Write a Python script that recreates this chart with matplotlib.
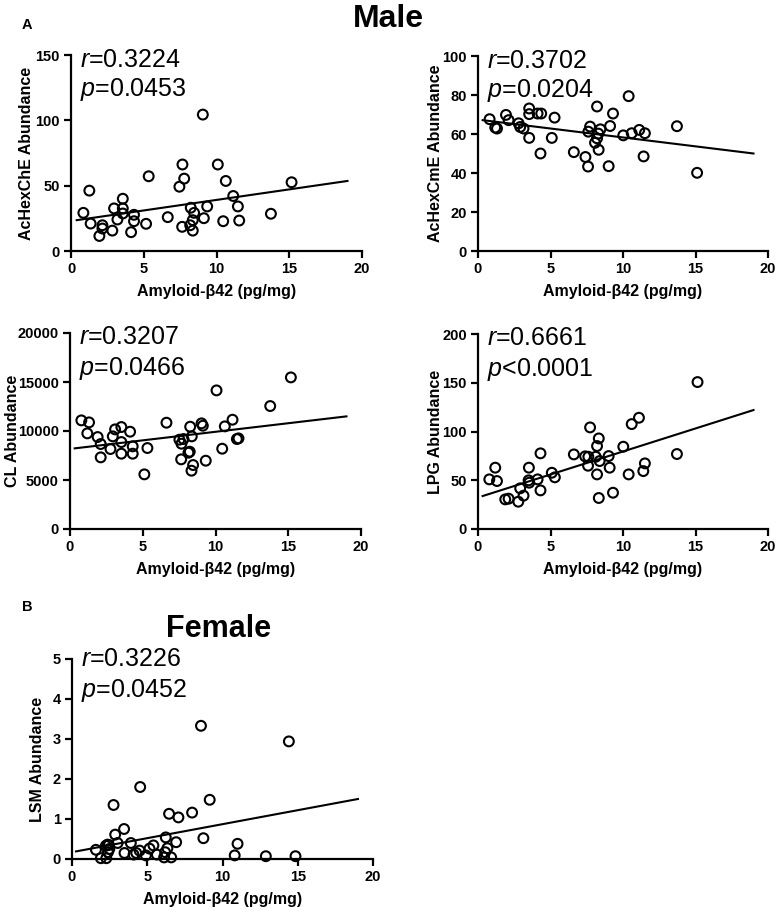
import numpy as np
import matplotlib
matplotlib.use("Agg")
from matplotlib import pyplot as plt

plt.rcParams['font.family'] = ['Liberation Sans', 'DejaVu Sans']
plt.rcParams['mathtext.fontset'] = 'custom'
plt.rcParams['mathtext.rm'] = 'Liberation Sans'
plt.rcParams['mathtext.it'] = 'Liberation Sans:italic'

# --- data ---
# Male: AcHexChE
m_ache_x = [0.85, 1.26, 1.35, 2.16, 2.16, 1.95, 2.84, 2.96, 3.56, 3.56, 3.56, 3.19, 4.13,
            4.33, 4.33, 5.16, 5.34, 6.65, 7.45, 7.66, 7.78, 7.64, 8.23, 8.46, 8.37, 8.19,
            8.37, 9.06, 9.13, 9.36, 10.09, 10.46, 10.64, 11.15, 11.47, 11.56, 13.74, 15.16]
m_ache_y = [29.2, 46.2, 21.0, 19.7, 17.2, 11.5, 15.6, 32.6, 40.0, 32.6, 28.7, 24.1, 14.4,
            27.7, 22.8, 20.8, 57.2, 25.9, 49.2, 66.2, 55.4, 18.5, 33.1, 29.2, 23.6, 19.7,
            15.6, 104.4, 25.1, 34.1, 66.2, 22.8, 53.6, 42.1, 34.1, 23.3, 28.5, 52.6]
m_ache_fit_x = [0.39, 19.0]
m_ache_fit_y = [23.6, 53.6]

# Male: AcHexCmE
m_acme_x = [0.80, 1.19, 1.31, 1.93, 2.11, 2.80, 2.91, 3.14, 3.53, 3.53, 3.53, 4.11, 4.36,
            4.31, 5.09, 5.28, 6.61, 7.41, 7.59, 7.61, 7.73, 8.21, 8.07, 8.21, 8.30, 8.44,
            8.32, 9.01, 9.11, 9.31, 10.02, 10.39, 10.60, 11.12, 11.51, 11.42, 13.72, 15.11]
m_acme_y = [67.6, 63.3, 62.8, 69.8, 67.1, 65.5, 63.6, 62.8, 73.1, 70.2, 58.0, 70.5, 70.5,
            50.0, 58.0, 68.4, 50.7, 48.2, 43.3, 61.2, 63.8, 74.1, 55.5, 57.8, 60.2, 62.4,
            51.9, 43.5, 64.1, 70.5, 59.3, 79.4, 60.4, 62.1, 60.4, 48.5, 64.0, 40.1]
m_acme_fit_x = [0.32, 19.0]
m_acme_fit_y = [67.1, 50.0]

# Male: CL
m_cl_x = [0.78, 1.31, 1.19, 1.90, 2.11, 2.11, 2.78, 2.94, 3.10, 3.53, 3.53, 3.53, 4.13,
          4.31, 4.31, 5.11, 5.32, 6.63, 7.52, 7.66, 7.80, 7.64, 8.14, 8.23, 8.26, 8.37,
          8.35, 8.46, 9.04, 9.13, 9.33, 10.07, 10.46, 10.64, 11.17, 11.47, 11.58, 13.76, 15.18]
m_cl_y = [11084, 10880, 9758, 9384, 8670, 7310, 8160, 9452, 10166, 10404, 8874, 7684, 9928,
          8432, 7684, 5576, 8262, 10846, 9112, 8704, 9180, 7106, 7786, 7888, 10438, 9452,
          5950, 6528, 10778, 10540, 6970, 14144, 8194, 10472, 11152, 9180, 9248, 12546, 15470]
m_cl_fit_x = [0.32, 19.0]
m_cl_fit_y = [8228, 11492]

# Male: LPG
m_lpg_x = [0.78, 1.19, 1.31, 1.88, 2.11, 2.78, 2.91, 3.14, 3.51, 3.49, 3.53, 4.11, 4.31,
           4.31, 5.09, 5.30, 6.61, 7.39, 7.61, 7.59, 7.73, 8.12, 8.21, 8.33, 8.39, 8.21,
           8.33, 9.01, 9.08, 9.31, 10.02, 10.39, 10.60, 11.10, 11.51, 11.40, 13.72, 15.14]
m_lpg_y = [50.9, 62.9, 49.2, 30.4, 31.1, 28.0, 41.7, 34.2, 62.9, 49.9, 47.5, 50.9, 77.6,
           39.6, 57.7, 53.0, 76.5, 74.5, 74.1, 64.9, 104.2, 74.1, 85.1, 92.9, 69.7, 56.0,
           31.8, 74.8, 62.9, 37.2, 84.4, 56.0, 107.6, 114.1, 67.3, 59.4, 76.9, 150.7]
m_lpg_fit_x = [0.32, 19.0]
m_lpg_fit_y = [33.8, 122.0]

# Female: LSM
f_lsm_x = [1.59, 1.92, 2.28, 2.25, 2.36, 2.45, 2.48, 2.39, 2.87, 3.03, 3.46, 3.49, 3.91,
           4.09, 4.27, 4.49, 4.91, 5.15, 5.41, 5.64, 6.23, 6.34, 6.12, 6.59, 6.92, 8.73,
           10.81, 11.00, 12.88, 14.85, 2.76, 4.53, 6.45, 7.07, 7.98, 9.15, 8.57, 14.41, 6.19]
f_lsm_y = [0.23, 0.02, 0.02, 0.33, 0.36, 0.35, 0.25, 0.17, 0.61, 0.40, 0.75, 0.15, 0.40,
           0.11, 0.15, 0.21, 0.09, 0.26, 0.34, 0.11, 0.54, 0.27, 0.04, 0.04, 0.42, 0.52,
           0.09, 0.38, 0.07, 0.07, 1.35, 1.80, 1.13, 1.04, 1.16, 1.48, 3.33, 2.94, 0.17]
f_lsm_fit_x = [0.27, 19.0]
f_lsm_fit_y = [0.19, 1.50]

W, H = 777, 914


def px_axes(fig, left, top, right, bottom):
    return fig.add_axes([left / W, 1 - bottom / H, (right - left) / W, (bottom - top) / H])


def panel(ax, x, y, fx, fy, ylabel, ymax, ystep, r_txt, p_txt, ty, ylab_px):
    ax.scatter(x, y, s=50, facecolors='none', edgecolors='black', linewidths=1.5,
               clip_on=False, zorder=3)
    ax.plot(fx, fy, color='black', lw=1.5)
    ax.set_xlim(0, 20)
    ax.set_ylim(0, ymax)
    ax.set_xticks(np.arange(0, 21, 5))
    ax.set_yticks(np.arange(0, ymax + 1e-9, ystep))
    for s in ['top', 'right']:
        ax.spines[s].set_visible(False)
    for s in ['left', 'bottom']:
        ax.spines[s].set_linewidth(1.6)
    ax.tick_params(direction='out', length=5, width=1.6, labelsize=10.5, pad=3)
    for lab in ax.get_xticklabels() + ax.get_yticklabels():
        lab.set_fontweight('bold')
    ax.set_xlabel('Amyloid-β42 (pg/mg)', fontsize=11.5, fontweight='bold', labelpad=6)
    ax.set_ylabel(ylabel, fontsize=11.5, fontweight='bold', va='center')
    # label centre, pixels left of the y axis
    ax.yaxis.set_label_coords(-ylab_px / ax.bbox.width, 0.5)
    ax.text(0.03, ty[0], r_txt, transform=ax.transAxes, fontsize=18, va='baseline')
    ax.text(0.03, ty[1], p_txt, transform=ax.transAxes, fontsize=18, va='baseline')


fig = plt.figure(figsize=(W / 100, H / 100), dpi=100)

ax1 = px_axes(fig, 71, 55, 362, 251)
panel(ax1, m_ache_x, m_ache_y, m_ache_fit_x, m_ache_fit_y, 'AcHexChE Abundance', 150, 50,
      r'$\mathit{r}$=0.3224', r'$\mathit{p}$=0.0453', (0.94, 0.79), 44)

ax2 = px_axes(fig, 478, 56, 768, 251)
panel(ax2, m_acme_x, m_acme_y, m_acme_fit_x, m_acme_fit_y, 'AcHexCmE Abundance', 100, 20,
      r'$\mathit{r}$=0.3702', r'$\mathit{p}$=0.0204', (0.94, 0.79), 43)

ax3 = px_axes(fig, 70, 333, 361, 529)
panel(ax3, m_cl_x, m_cl_y, m_cl_fit_x, m_cl_fit_y, 'CL Abundance', 20000, 5000,
      r'$\mathit{r}$=0.3207', r'$\mathit{p}$=0.0466', (0.944, 0.787), 57)

ax4 = px_axes(fig, 478, 334, 768, 529)
panel(ax4, m_lpg_x, m_lpg_y, m_lpg_fit_x, m_lpg_fit_y, 'LPG Abundance', 200, 50,
      r'$\mathit{r}$=0.6661', r'$\mathit{p}$<0.0001', (0.944, 0.787), 43)

ax5 = px_axes(fig, 72, 659, 373, 859)
panel(ax5, f_lsm_x, f_lsm_y, f_lsm_fit_x, f_lsm_fit_y, 'LSM Abundance', 5, 1,
      r'$\mathit{r}$=0.3226', r'$\mathit{p}$=0.0452', (0.965, 0.812), 35)

fig.text(388 / W, 1 - 27 / H, 'Male', fontsize=23, fontweight='bold', ha='center', va='baseline')
fig.text(219 / W, 1 - 637 / H, 'Female', fontsize=22, fontweight='bold', ha='center', va='baseline')
fig.text(22 / W, 1 - 29 / H, 'A', fontsize=10.5, fontweight='bold', va='baseline')
fig.text(22 / W, 1 - 611 / H, 'B', fontsize=10.5, fontweight='bold', va='baseline')

fig.savefig('out.png', dpi=100)
